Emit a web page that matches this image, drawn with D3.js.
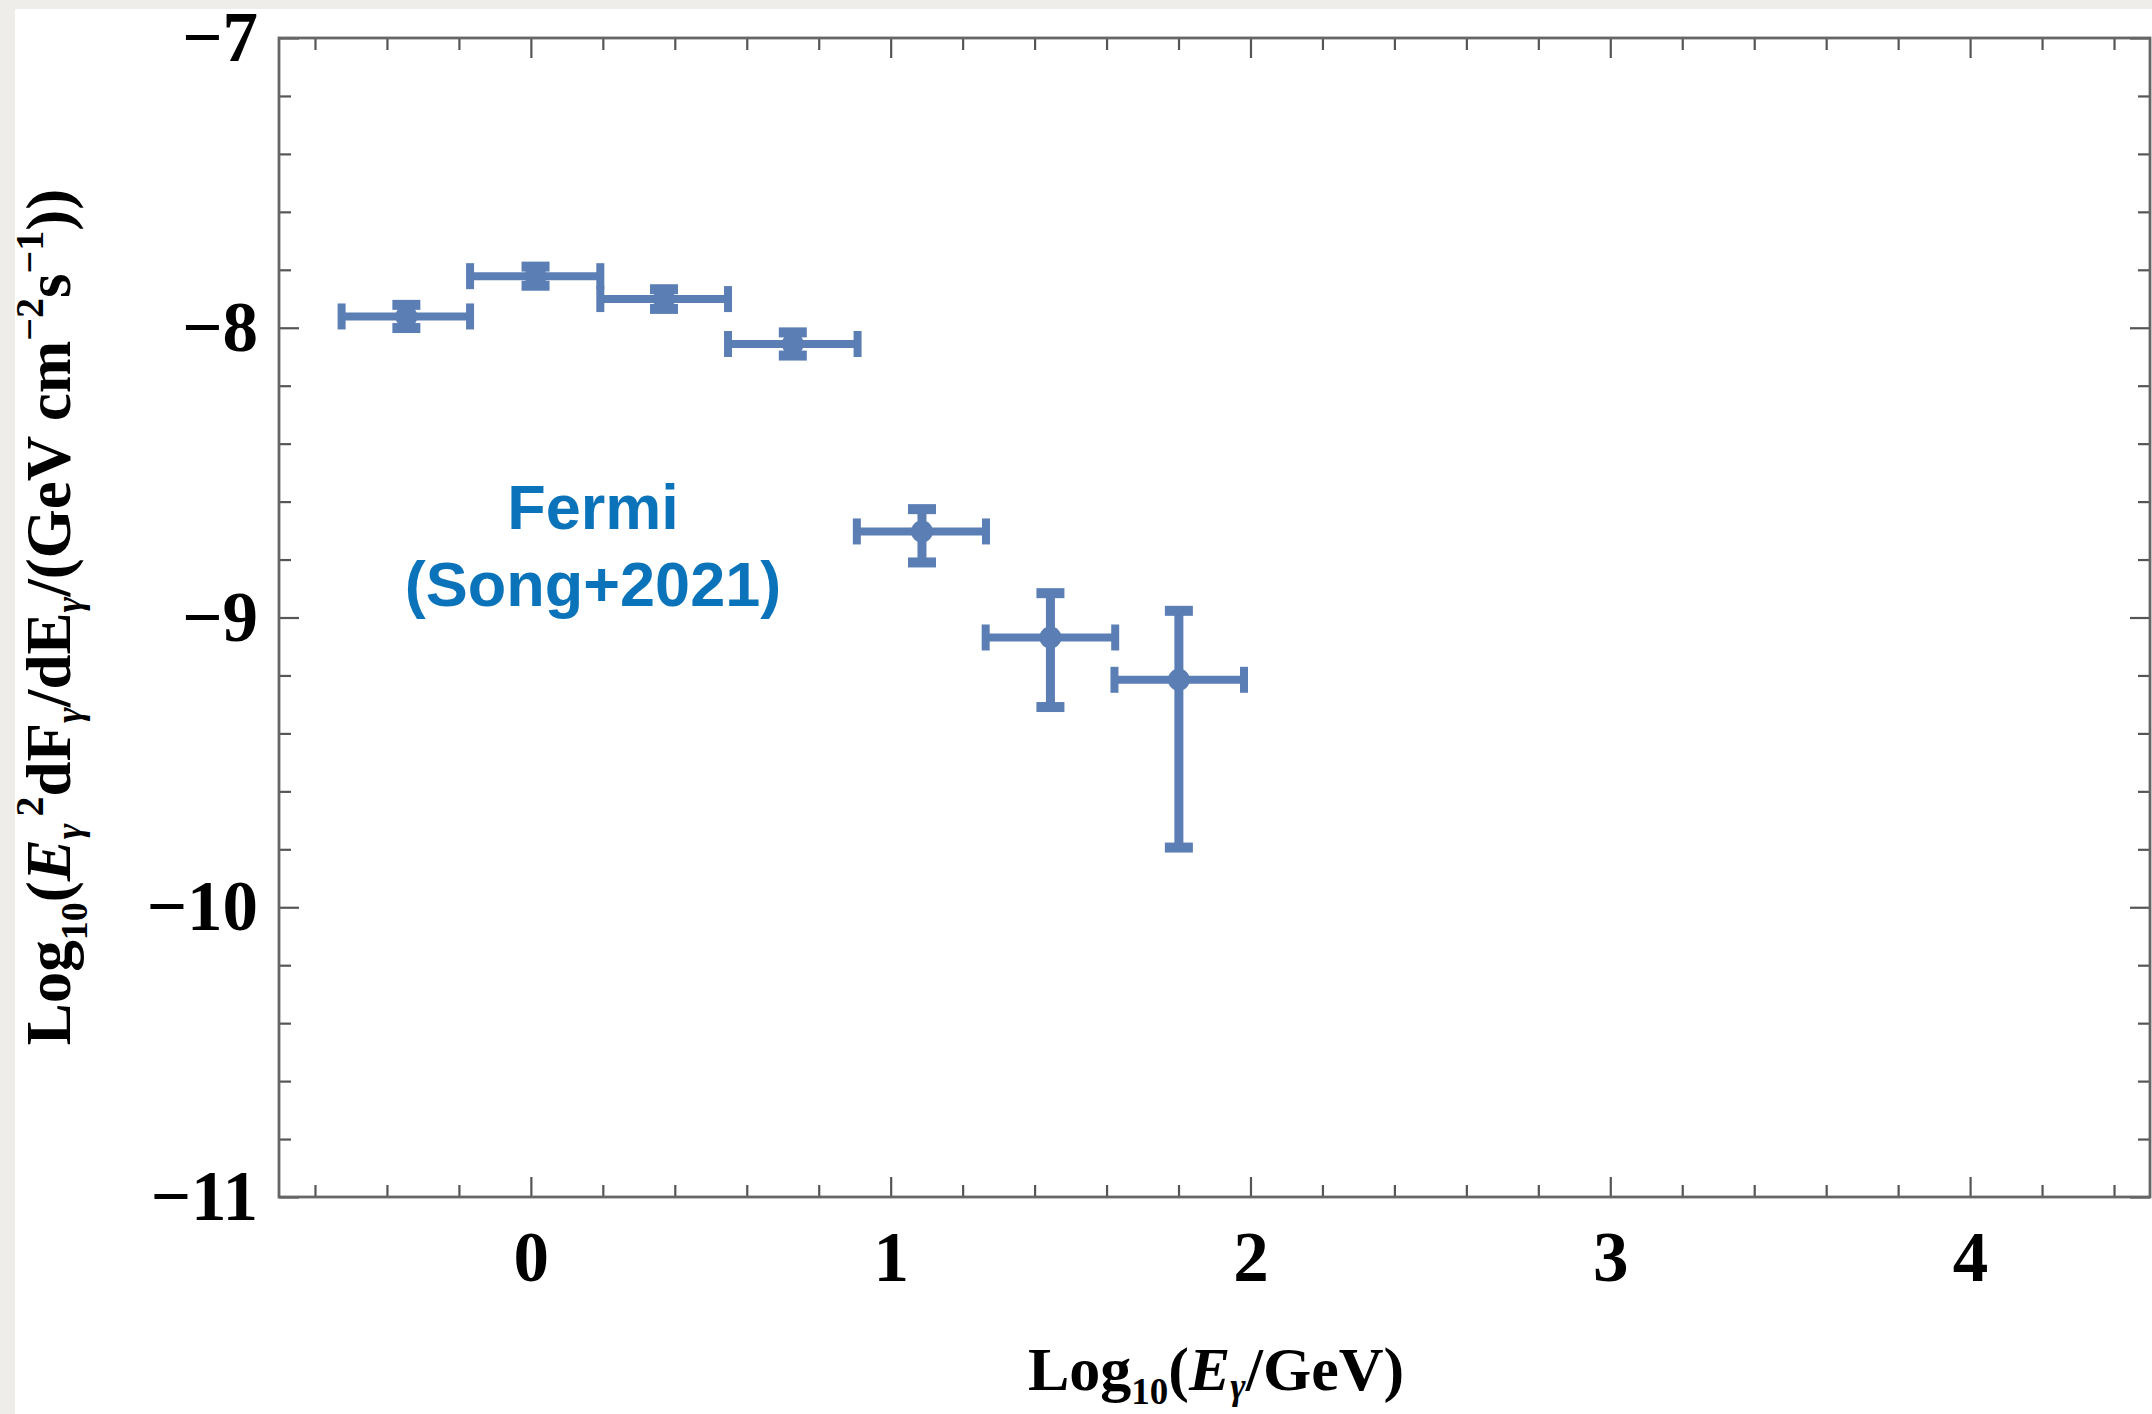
<!DOCTYPE html>
<html>
<head>
<meta charset="utf-8">
<script src="https://cdn.jsdelivr.net/npm/d3@7"></script>
<style>
  html, body { margin: 0; padding: 0; background: #eeede9; }
  svg { display: block; }
</style>
</head>
<body>
<div class="container-sed"></div>
<script>
// Fermi (Song+2021) spectral points, log10 values
const energyCenter = [-0.346, 0.013, 0.370, 0.728, 1.087, 1.444, 1.801];
const energyLow    = [-0.526, -0.169, 0.193, 0.548, 0.906, 1.264, 1.622];
const energyHigh   = [-0.169, 0.193, 0.548, 0.908, 1.265, 1.624, 1.982];
const fluxValue    = [-7.961, -7.822, -7.901, -8.056, -8.703, -9.069, -9.215];
const fluxLow      = [-8.001, -7.855, -7.935, -8.096, -8.810, -9.309, -9.794];
const fluxHigh     = [-7.921, -7.789, -7.867, -8.016, -8.626, -8.916, -8.977];

const xTickValues = [0, 1, 2, 3, 4];
const xTickLabels = ['0', '1', '2', '3', '4'];
const yTickValues = [-11, -10, -9, -8, -7];
const yTickLabels = ['\u221211', '\u221210', '\u22129', '\u22128', '\u22127'];

const width = 2152;
const height = 1414;
const frame = { left: 279, right: 2150, top: 38, bottom: 1197 };
const pointColor = '#5b7eb5';
const serif = '"Liberation Serif", "Times New Roman", serif';

const points = energyCenter.map((x, i) => ({
  x,
  xLo: energyLow[i],
  xHi: energyHigh[i],
  y: fluxValue[i],
  yLo: fluxLow[i],
  yHi: fluxHigh[i]
}));

const scaleX = d3.scaleLinear().domain([-0.7, 4.5]).range([frame.left, frame.right]);
const scaleY = d3.scaleLinear().domain([-11, -7]).range([frame.bottom, frame.top]);

const minorX = d3.range(-6, 45, 2).map(v => v / 10).filter(v => !xTickValues.includes(v));
const minorY = d3.range(-110, -69, 2).map(v => v / 10).filter(v => !yTickValues.includes(v));

const svg = d3.select('.container-sed')
  .append('svg')
  .attr('width', width)
  .attr('height', height);

// screenshot border
svg.append('rect')
  .attr('x', 0).attr('y', 0)
  .attr('width', width).attr('height', height)
  .attr('fill', '#eeede9');

svg.append('rect')
  .attr('x', 15).attr('y', 9)
  .attr('width', width - 15).attr('height', height - 9)
  .attr('fill', '#ffffff');

const styleAxis = (g, size) => {
  g.select('.domain').remove();
  g.selectAll('.tick line')
    .attr('stroke', '#555')
    .attr('stroke-width', 2.2);
  g.selectAll('.tick text')
    .attr('fill', '#000')
    .attr('font-family', serif)
    .attr('font-weight', 'bold')
    .attr('font-size', size);
};

// major + minor ticks on all four sides, pointing inward
const makeAxes = (values, len, withLabels) => {
  const fmtX = withLabels ? (d => xTickLabels[xTickValues.indexOf(d)]) : () => '';
  const fmtY = withLabels ? (d => yTickLabels[yTickValues.indexOf(d)]) : () => '';

  svg.append('g')
    .attr('transform', `translate(0, ${frame.bottom})`)
    .call(d3.axisBottom(scaleX).tickValues(values.x).tickSize(-len).tickSizeOuter(0).tickPadding(34).tickFormat(fmtX))
    .call(g => styleAxis(g, 71));

  svg.append('g')
    .attr('transform', `translate(0, ${frame.top})`)
    .call(d3.axisTop(scaleX).tickValues(values.x).tickSize(-len).tickSizeOuter(0).tickFormat(''))
    .call(g => styleAxis(g, 71));

  svg.append('g')
    .attr('transform', `translate(${frame.left}, 0)`)
    .call(d3.axisLeft(scaleY).tickValues(values.y).tickSize(-len).tickSizeOuter(0).tickPadding(21).tickFormat(fmtY))
    .call(g => styleAxis(g, 71));

  svg.append('g')
    .attr('transform', `translate(${frame.right}, 0)`)
    .call(d3.axisRight(scaleY).tickValues(values.y).tickSize(-len).tickSizeOuter(0).tickFormat(''))
    .call(g => styleAxis(g, 71));
};

makeAxes({ x: minorX, y: minorY }, 12, false);
makeAxes({ x: xTickValues, y: yTickValues }, 20, true);

svg.append('rect')
  .attr('x', frame.left)
  .attr('y', frame.top)
  .attr('width', frame.right - frame.left)
  .attr('height', frame.bottom - frame.top)
  .attr('fill', 'none')
  .attr('stroke', '#666')
  .attr('stroke-width', 2.8);

// error bars
const groupPoints = svg.append('g')
  .attr('stroke', pointColor)
  .attr('fill', pointColor)
  .attr('stroke-width', 8);

const capHalf = 13;
const yCapHalf = 14;

const bars = groupPoints.selectAll('g.point')
  .data(points)
  .enter()
  .append('g')
  .attr('class', 'point');

bars.append('line')
  .attr('x1', d => scaleX(d.xLo)).attr('x2', d => scaleX(d.xHi))
  .attr('y1', d => scaleY(d.y)).attr('y2', d => scaleY(d.y));

bars.append('line')
  .attr('stroke-width', 9)
  .attr('x1', d => scaleX(d.x)).attr('x2', d => scaleX(d.x))
  .attr('y1', d => scaleY(d.yLo)).attr('y2', d => scaleY(d.yHi));

bars.append('line')
  .attr('x1', d => scaleX(d.xLo)).attr('x2', d => scaleX(d.xLo))
  .attr('y1', d => scaleY(d.y) - capHalf).attr('y2', d => scaleY(d.y) + capHalf);

bars.append('line')
  .attr('x1', d => scaleX(d.xHi)).attr('x2', d => scaleX(d.xHi))
  .attr('y1', d => scaleY(d.y) - capHalf).attr('y2', d => scaleY(d.y) + capHalf);

bars.append('line')
  .attr('stroke-width', 10)
  .attr('x1', d => scaleX(d.x) - yCapHalf).attr('x2', d => scaleX(d.x) + yCapHalf)
  .attr('y1', d => scaleY(d.yLo)).attr('y2', d => scaleY(d.yLo));

bars.append('line')
  .attr('stroke-width', 10)
  .attr('x1', d => scaleX(d.x) - yCapHalf).attr('x2', d => scaleX(d.x) + yCapHalf)
  .attr('y1', d => scaleY(d.yHi)).attr('y2', d => scaleY(d.yHi));

bars.append('circle')
  .attr('cx', d => scaleX(d.x))
  .attr('cy', d => scaleY(d.y))
  .attr('r', 11)
  .attr('stroke', 'none');

// annotation
const note = svg.append('text')
  .attr('x', 593)
  .attr('text-anchor', 'middle')
  .attr('font-family', '"Liberation Sans", Arial, Helvetica, sans-serif')
  .attr('font-weight', 'bold')
  .attr('font-size', 63)
  .attr('fill', '#0b73b9');

note.append('tspan').attr('x', 593).attr('y', 529).text('Fermi');
note.append('tspan').attr('x', 593).attr('y', 606).text('(Song+2021)');

// axis titles
const addPieces = (textSel, pieces) => {
  let shift = 0;
  pieces.forEach(p => {
    const target = p.dy || 0;
    const t = textSel.append('tspan')
      .attr('dy', target - shift)
      .text(p.t);
    if (p.size) t.attr('font-size', p.size);
    if (p.italic) t.attr('font-style', 'italic');
    if (p.dx) t.attr('dx', p.dx);
    shift = target;
  });
};

const titleX = svg.append('text')
  .attr('x', 1216)
  .attr('y', 1390)
  .attr('text-anchor', 'middle')
  .attr('font-family', serif)
  .attr('font-weight', 'bold')
  .attr('font-size', 62);

addPieces(titleX, [
  { t: 'Log' },
  { t: '10', size: 37, dy: 14 },
  { t: '(' },
  { t: 'E', italic: true },
  { t: '\u03b3', size: 37, dy: 9, italic: true },
  { t: '/GeV)' }
]);

const titleY = svg.append('text')
  .attr('transform', 'translate(70, 617) rotate(-90)')
  .attr('text-anchor', 'middle')
  .attr('font-family', serif)
  .attr('font-weight', 'bold')
  .attr('font-size', 63);

addPieces(titleY, [
  { t: 'Log' },
  { t: '10', size: 38, dy: 17 },
  { t: '(' },
  { t: 'E', italic: true },
  { t: '\u03b3', size: 38, dy: 12, italic: true },
  { t: '2', size: 40, dy: -27, dx: 7 },
  { t: 'dF' },
  { t: '\u03b3', size: 38, dy: 12, italic: true },
  { t: '/dE' },
  { t: '\u03b3', size: 38, dy: 12, italic: true },
  { t: '/(GeV cm' },
  { t: '\u22122', size: 40, dy: -27 },
  { t: 's' },
  { t: '\u22121', size: 40, dy: -27 },
  { t: '))' }
]);
</script>
</body>
</html>
